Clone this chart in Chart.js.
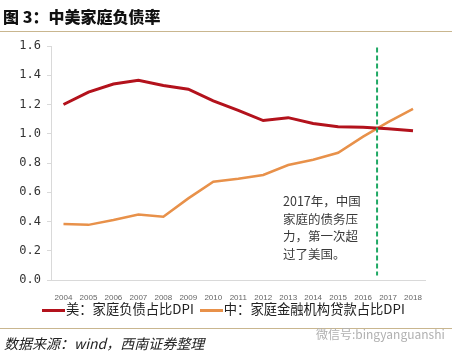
<!DOCTYPE html>
<html>
<head>
<meta charset="utf-8">
<script src="https://cdn.jsdelivr.net/npm/chart.js@4/dist/chart.umd.min.js"></script>
<style>
    html, body { margin: 0; padding: 0; background: #fff; }
    .wrap { position: relative; width: 452px; height: 360px; overflow: hidden; font-family: "Noto Sans CJK SC", "Noto Sans", sans-serif; }
    .wrap canvas { position: absolute; left: 0; top: 0; }
    .title { position: absolute; left: 3px; top: 4px; font-size: 16px; font-weight: 900; color: #111; white-space: nowrap; }
    .rule { position: absolute; left: 0; width: 452px; height: 1px; background: #c9b68f; }
    .note { position: absolute; left: 283px; top: 192px; font-size: 12.5px; line-height: 17.7px; color: #3a3a3a; }
    .legend { position: absolute; top: 299px; left: 42px; font-size: 13.3px; color: #222; white-space: nowrap; }
    .legend span.sw { display: inline-block; width: 23px; height: 3px; vertical-align: middle; margin-right: 1px; }
    .source { position: absolute; left: 4px; top: 333px; font-size: 14px; font-style: italic; color: #222; white-space: nowrap; }
    .mark { position: absolute; left: 316px; top: 325px; font-size: 12px; color: #b0b0b0; white-space: nowrap; }
</style>
</head>
<body>
<div class="wrap">
    <canvas id="lineChart" width="452" height="360"></canvas>
    <div class="title">图 3：中美家庭负债率</div>
    <div class="rule" style="top:31px"></div>
    <div class="note">2017年，中国<br>家庭的债务压<br>力，第一次超<br>过了美国。</div>
    <div class="legend"><span class="sw" style="background:#b3121c"></span>美：家庭负债占比DPI&nbsp;&nbsp;<span class="sw" style="background:#e8914a"></span>中：家庭金融机构贷款占比DPI</div>
    <div class="rule" style="top:328px"></div>
    <div class="source">数据来源：wind，西南证券整理</div>
    <div class="mark">微信号:bingyanguanshi</div>
</div>
<script>
var years = ['2004', '2005', '2006', '2007', '2008', '2009', '2010', '2011', '2012', '2013', '2014', '2015', '2016', '2017', '2018'];
var usDebt = [1.20, 1.285, 1.34, 1.365, 1.33, 1.305, 1.225, 1.16, 1.09, 1.11, 1.07, 1.048, 1.045, 1.035, 1.02];
var cnLoans = [0.383, 0.377, 0.41, 0.447, 0.433, 0.558, 0.672, 0.693, 0.718, 0.786, 0.822, 0.87, 0.98, 1.08, 1.17];
var crossIndex = 12.56; // where the two lines meet, between 2016 and 2017
var crossRange = [0.03, 1.59];

var lineChartCtx = document.getElementById('lineChart').getContext('2d');

// green dashed marker at the crossing point
var crossLine = {
    id: 'crossLine',
    afterDatasetsDraw: function (chart) {
        var x = chart.scales.x.getPixelForValue(crossIndex);
        var y0 = chart.scales.y.getPixelForValue(crossRange[0]);
        var y1 = chart.scales.y.getPixelForValue(crossRange[1]);
        var ctx = chart.ctx;
        ctx.save();
        ctx.strokeStyle = '#1fa864';
        ctx.lineWidth = 2;
        ctx.setLineDash([5, 3]);
        ctx.beginPath();
        ctx.moveTo(x, y1);
        ctx.lineTo(x, y0);
        ctx.stroke();
        ctx.restore();
    }
};

new Chart(lineChartCtx, {
    type: 'line',
    data: {
        labels: years,
        datasets: [{
            label: '美：家庭负债占比DPI',
            data: usDebt,
            borderColor: '#b3121c',
            borderWidth: 3,
            pointRadius: 0,
            tension: 0
        }, {
            label: '中：家庭金融机构贷款占比DPI',
            data: cnLoans,
            borderColor: '#e8914a',
            borderWidth: 2.5,
            pointRadius: 0,
            tension: 0
        }]
    },
    options: {
        responsive: false,
        animation: false,
        layout: { padding: { left: 0, right: 26.5, top: 46, bottom: 0 } },
        plugins: { legend: { display: false }, tooltip: { enabled: false } },
        scales: {
            x: {
                offset: true,
                grid: { display: false },
                border: { display: true, color: '#d9d9d9' },
                ticks: { color: '#666', font: { size: 8, family: 'Arial, "Liberation Sans"' }, padding: 5, maxRotation: 0, autoSkip: false },
                afterFit: function (scale) { scale.height = 80; }
            },
            y: {
                min: 0,
                max: 1.6,
                ticks: {
                    stepSize: 0.2,
                    color: '#333',
                    padding: 6,
                    font: { size: 12, family: '"DejaVu Sans Mono", monospace' },
                    callback: function (v) { return v.toFixed(1); }
                },
                grid: { drawOnChartArea: false, tickLength: 4, color: '#d9d9d9' },
                border: { display: true, color: '#d9d9d9' },
                afterFit: function (scale) { scale.width = 51; }
            }
        }
    },
    plugins: [crossLine]
});
</script>
</body>
</html>
